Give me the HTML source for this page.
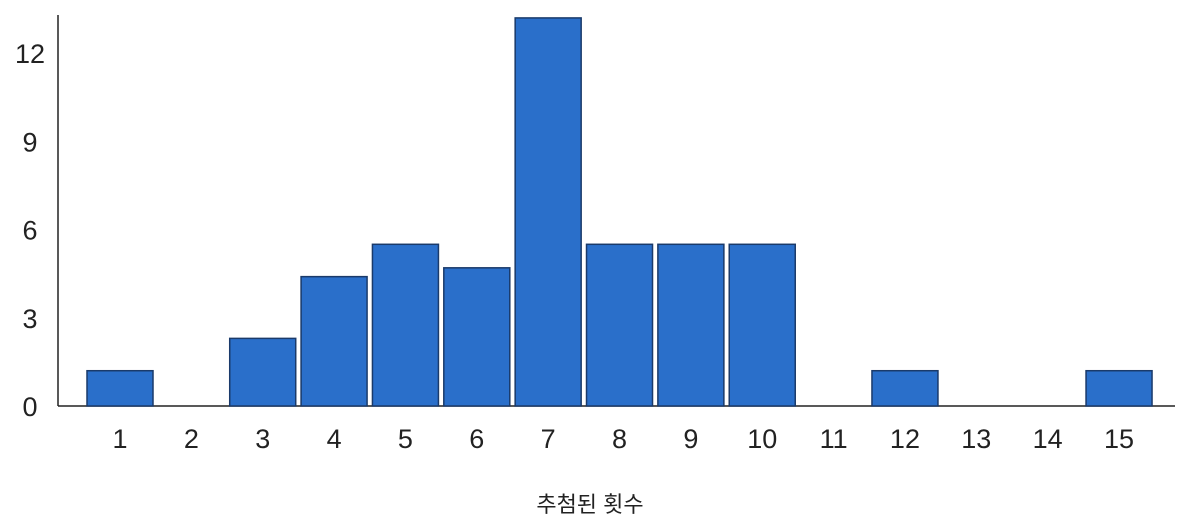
<!DOCTYPE html>
<html><head><meta charset="utf-8"><style>
body{margin:0;background:#fff;}
svg{display:block;font-family:"Liberation Sans","Noto Sans CJK KR",sans-serif;}
</style></head><body>
<svg id="c" width="1177" height="526"></svg>
<script>
const categories=[1,2,3,4,5,6,7,8,9,10,11,12,13,14,15];
const counts=[1.2,0,2.3,4.4,5.5,4.7,13.2,5.5,5.5,5.5,0,1.2,0,0,1.2];
const yTicks=[0,3,6,9,12];
const svg=document.getElementById('c');
const NS='http://www.w3.org/2000/svg';
const y0=406,ppu=29.4,x1=120,step=71.36,bw=66;
const X=i=>x1+i*step, Y=v=>y0-v*ppu;
function mk(t,a){const e=document.createElementNS(NS,t);for(const k in a)e.setAttribute(k,a[k]);svg.appendChild(e);return e;}
let e=mk('line',{x1:58,y1:15,x2:58,y2:y0,stroke:'#222','stroke-width':1.5});


e=mk('line',{x1:58,y1:y0,x2:1175,y2:y0,stroke:'#222','stroke-width':1.5});


yTicks.forEach(t=>{
  const l=mk('text',{x:30,y:Y(t)+10,'text-anchor':'middle','font-size':27,fill:'#222'});
  l.textContent=t;
  
  
});
categories.forEach((c,i)=>{
  if(counts[i]>0){
    const r=mk('rect',{x:X(i)-bw/2,y:Y(counts[i]),width:bw,height:counts[i]*ppu,fill:'#2a6fca',stroke:'#1a3a6a','stroke-width':1.5});
    
    
  }
  const l=mk('text',{x:X(i),y:448,'text-anchor':'middle','font-size':27,fill:'#222'});
  l.textContent=c;
  
  
});
e=mk('text',{x:590,y:512,'text-anchor':'middle','font-size':22,fill:'#222'});
e.textContent='추첨된 횟수';


</script>
</body></html>
